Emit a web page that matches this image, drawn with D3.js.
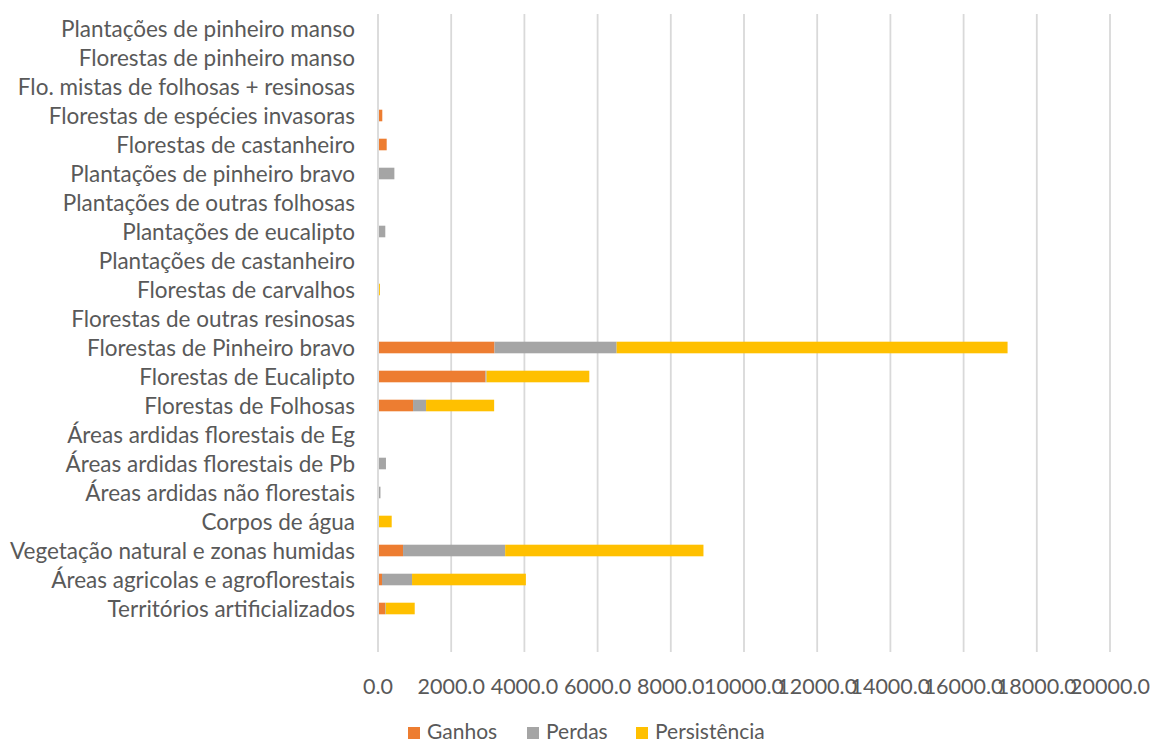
<!DOCTYPE html>
<html><head><meta charset="utf-8">
<script src="https://cdn.jsdelivr.net/npm/d3@7"></script>
<style>html,body{margin:0;padding:0;background:#fff;}svg{display:block;}</style>
</head><body>
<svg id="chart" width="1151" height="744"></svg>
<script>
const categories = [
  "Plantações de pinheiro manso",
  "Florestas de pinheiro manso",
  "Flo. mistas de folhosas + resinosas",
  "Florestas de espécies invasoras",
  "Florestas de castanheiro",
  "Plantações de pinheiro bravo",
  "Plantações de outras folhosas",
  "Plantações de eucalipto",
  "Plantações de castanheiro",
  "Florestas de carvalhos",
  "Florestas de outras resinosas",
  "Florestas de Pinheiro bravo",
  "Florestas de Eucalipto",
  "Florestas de Folhosas",
  "Áreas ardidas florestais de Eg",
  "Áreas ardidas florestais de Pb",
  "Áreas ardidas não florestais",
  "Corpos de água",
  "Vegetação natural e zonas humidas",
  "Áreas agricolas e agroflorestais",
  "Territórios artificializados"
];
const ganhos =       [0,0,0,90,210,0,0,0,0,0,0,3155,2909,930,0,0,0,0,657,82,164];
const perdas =       [0,0,0,0,0,420,0,172,0,0,0,3338,30,356,0,190,40,0,2790,821,20];
const persistencia = [0,0,0,0,0,0,0,0,0,25,0,10681,2807,1860,0,0,0,347,5418,3110,792];
const seriesNames = ["Ganhos","Perdas","Persistência"];
const colors = ["#ED7D31","#A5A5A5","#FFC000"];
const xTicks = [0,2000,4000,6000,8000,10000,12000,14000,16000,18000,20000];

const FONT = "Lato, 'Open Sans', sans-serif";
const svg = d3.select("#chart");
const x = d3.scaleLinear().domain([0,20000]).range([378,1110]);
const plotTop = 14, plotBottom = 652;
const step = 29.0;
const y = d3.scaleBand().domain(categories).range([plotTop, plotTop + step*categories.length]).paddingInner(0.6).paddingOuter(0.3);

// gridlines
svg.append("g").selectAll("line").data(xTicks).join("line")
  .attr("x1", d=>x(d)).attr("x2", d=>x(d))
  .attr("y1", plotTop).attr("y2", plotBottom)
  .attr("stroke", "#D9D9D9").attr("stroke-width", 1.8);

// stacked data
const rows = categories.map((c,i)=>({cat:c, Ganhos:ganhos[i], Perdas:perdas[i], "Persistência":persistencia[i]}));
const stacked = d3.stack().keys(seriesNames)(rows);

svg.append("g").selectAll("g").data(stacked).join("g")
  .attr("fill", (d,i)=>colors[i])
  .selectAll("rect").data(d=>d).join("rect")
  .attr("x", d=>x(d[0]) + 1)
  .attr("width", d=>Math.max(0, x(d[1]) - x(d[0])))
  .attr("y", d=>y(d.data.cat))
  .attr("height", y.bandwidth());

// category labels
svg.append("g").selectAll("text").data(categories).join("text")
  .attr("x", 355).attr("y", d=>y(d)+y.bandwidth()/2)
  .attr("dy","0.36em")
  .attr("text-anchor","end")
  .attr("font-family", FONT).attr("font-size", 22.5)
  .attr("fill", "#595959")
  .text(d=>d);

// x tick labels
svg.append("g").selectAll("text").data(xTicks).join("text")
  .attr("x", d=>x(d)).attr("y", 694)
  .attr("text-anchor","middle")
  .attr("font-family", FONT).attr("font-size", 21.5)
  .attr("fill", "#595959")
  .text(d=>d3.format(".1f")(d));

// legend
const legendX = [408, 527, 636];
const lg = svg.append("g").selectAll("g").data(seriesNames).join("g")
  .attr("transform", (d,i)=>`translate(${legendX[i]},731)`);
lg.append("rect").attr("x",0).attr("y",-4).attr("width",12).attr("height",12)
  .attr("fill", (d,i)=>colors[i]);
lg.append("text").attr("x",19).attr("y",0).attr("dy","0.36em")
  .attr("font-family", FONT).attr("font-size", 21).attr("fill","#595959")
  .text(d=>d);
</script>
</body></html>
